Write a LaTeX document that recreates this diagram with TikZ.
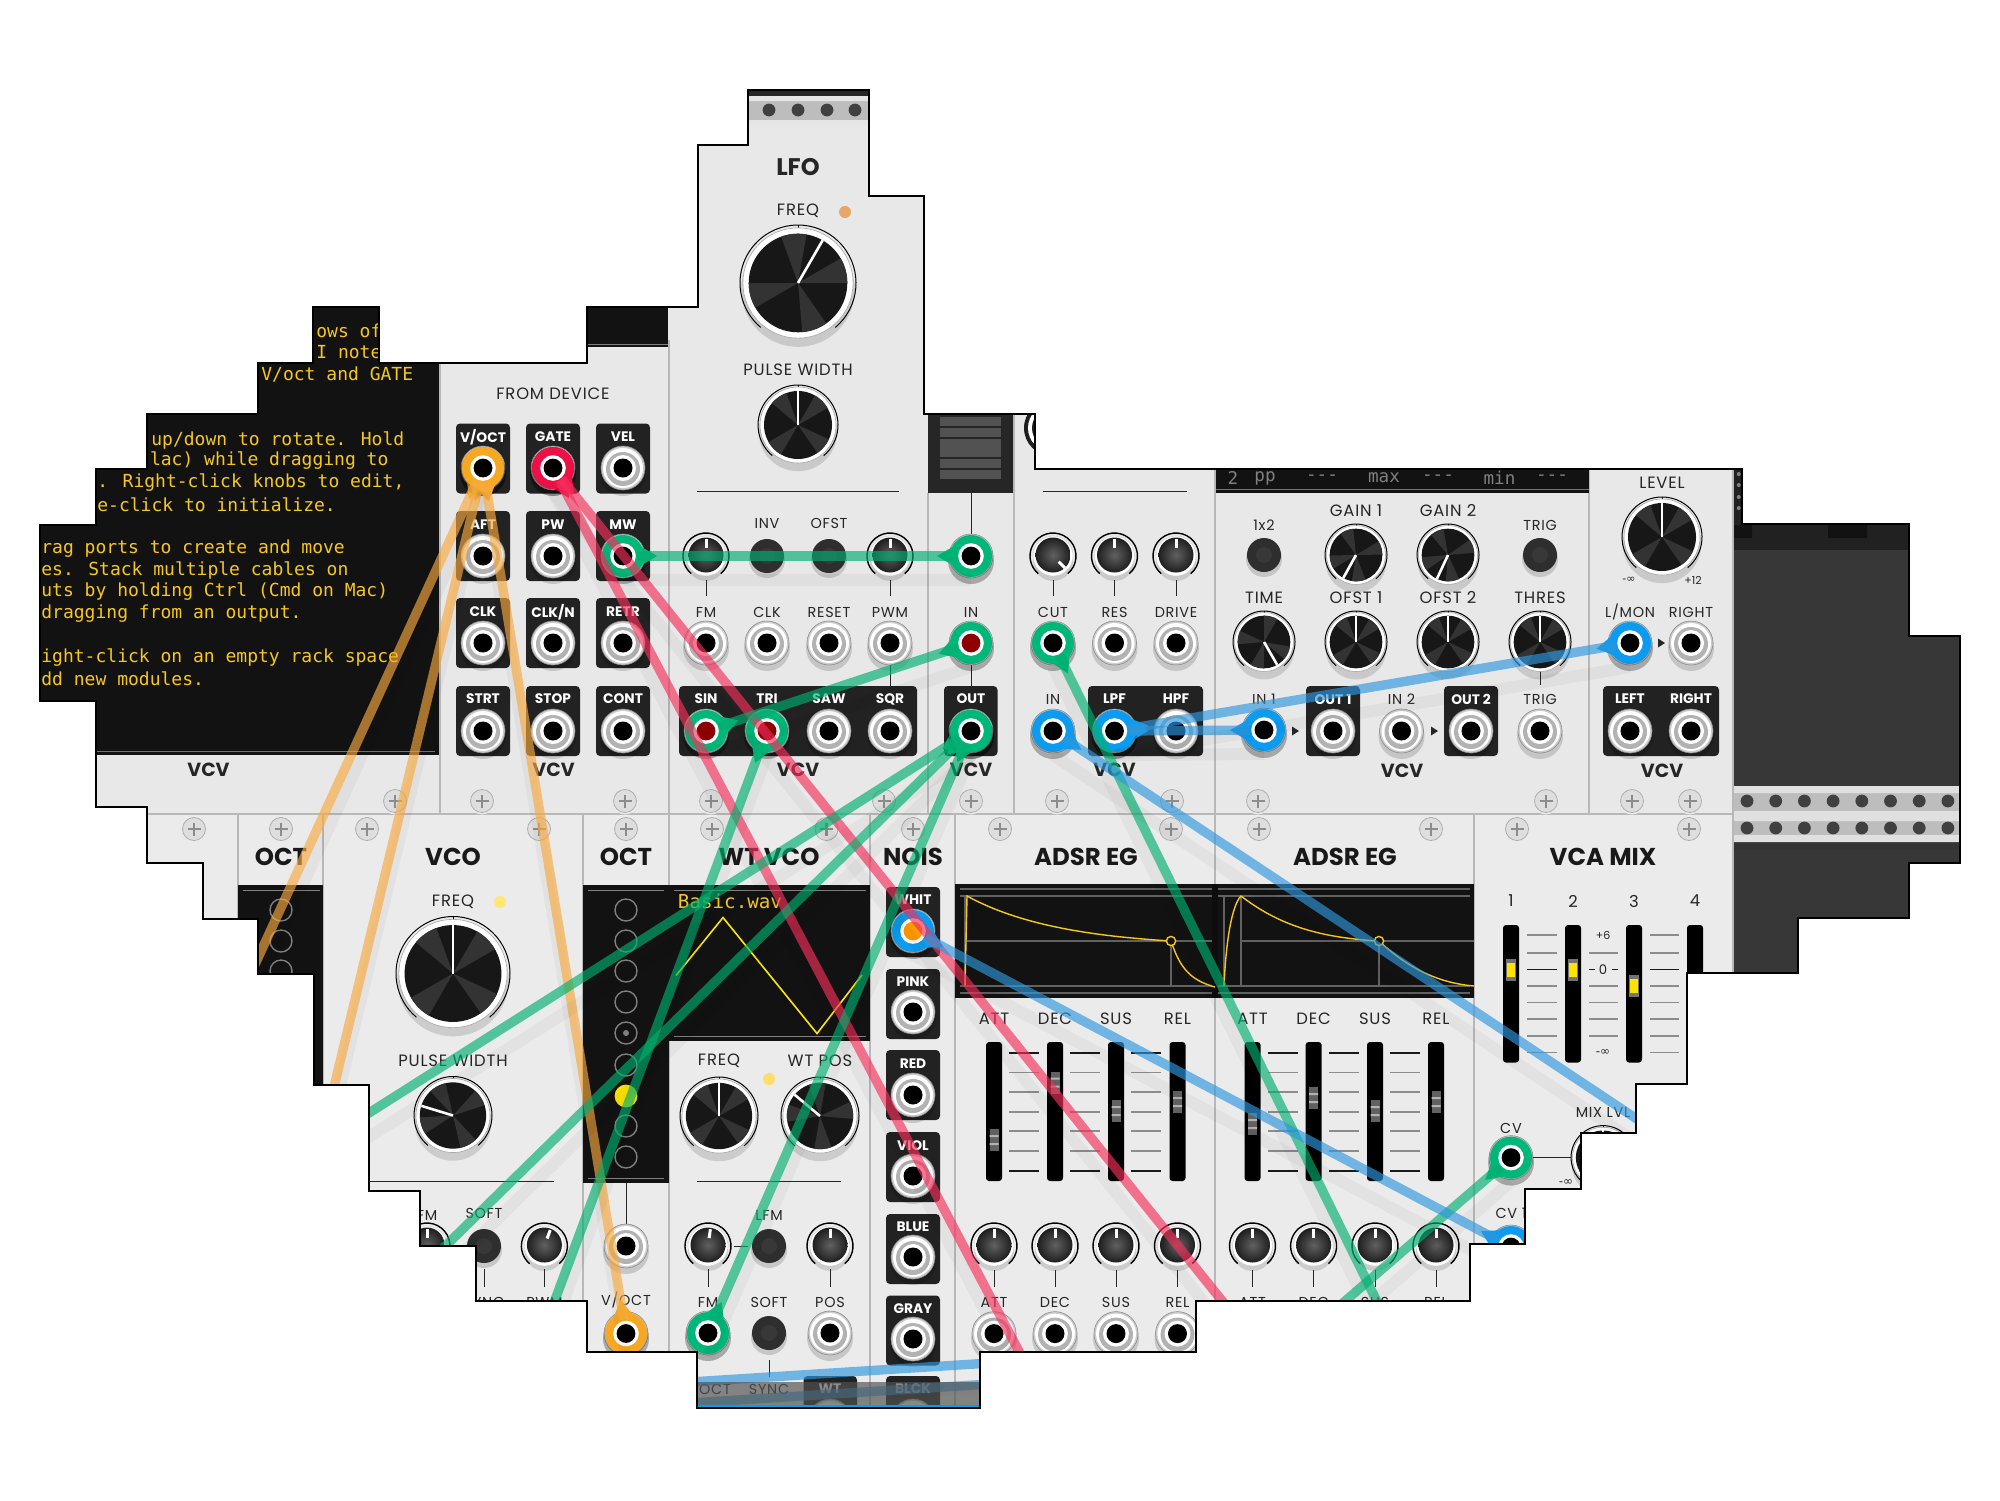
\documentclass[tikz,border=0pt]{standalone}
\usepackage{fontspec}
\setmainfont{Poppins}
\newfontfamily\lsf[LetterSpace=5]{Poppins}
\newfontfamily\monof{DejaVu Sans Mono}
\newfontfamily\symf{DejaVu Sans}
\usetikzlibrary{calc}
\definecolor{pan}{HTML}{E8E8E8}
\definecolor{panb}{HTML}{EBEBEB}
\definecolor{divc}{HTML}{B8B8B8}
\definecolor{dk}{HTML}{121212}
\definecolor{tilec}{HTML}{222222}
\definecolor{rack}{HTML}{373737}
\definecolor{ylw}{HTML}{F6C81E}
\definecolor{cgreen}{HTML}{00B77A}
\definecolor{cred}{HTML}{EB1045}
\definecolor{corange}{HTML}{F7A823}
\definecolor{cblue}{HTML}{0C9BEF}
\definecolor{lgreen}{HTML}{00AF70}
\definecolor{lred}{HTML}{F52F5A}
\definecolor{lorange}{HTML}{F7AA3F}
\definecolor{lblue}{HTML}{2E97DE}
\definecolor{txt}{HTML}{262626}
\newcounter{lb}
\tikzset{
 lbl/.style={font=\fontsize{7.2}{8}\selectfont\lsf,text=txt,inner sep=0pt},
 biglbl/.style={font=\fontsize{8.2}{9}\selectfont\lsf,text=txt,inner sep=0pt},
 tilelbl/.style={font=\fontsize{6.9}{8}\selectfont\bfseries,text=white,inner sep=0pt},
 ttl/.style={font=\fontsize{12.2}{13}\selectfont\bfseries,text=black!90,inner sep=0pt},
 logo/.style={font=\fontsize{9.5}{11}\selectfont\bfseries,text=black!85,inner sep=0pt},
 notetxt/.style={font=\fontsize{9}{11}\selectfont\monof,text=ylw,anchor=west,inner sep=0pt},
 disptxt/.style={font=\fontsize{8.8}{10}\selectfont\monof,text=black!50,inner sep=0pt},
 ln/.style={black!85,line width=.5pt},
 divl/.style={divc,line width=1.2pt},
 tick/.style={black!45,line width=.6pt},
 tickb/.style={black!90,line width=.7pt},
 grid/.style={black!62,line width=.6pt},
 env/.style={ylw,line width=.7pt},
 cable/.style={line width=4.7pt,opacity=.65},
 pa/.style={shorten <=7pt},
 pb/.style={shorten >=7pt},
}
\newcommand\lbl[4][lbl]{\stepcounter{lb}\node[#1] (t\thelb) at (#2,#3) {#4};}
\newcommand\vcv[2]{\lbl[logo]{#1}{#2}{VCV}}
\newcommand\tile[4]{\fill[tilec,rounded corners=2pt] (#1,#2) rectangle (#3,#4);}
\newcommand\screw[2]{\begin{scope}[shift={(#1,#2)},x=.5pt,y=.5pt]
 \fill[black!8] (0,-1) circle (12.5);
 \filldraw[fill=black!13,draw=black!32,line width=.4pt] (0,0) circle (11.5);
 \draw[black!45,line width=1.3pt] (-6.5,0)--(6.5,0) (0,-6.5)--(0,6.5);
\end{scope}}
\newcommand\port[4][black]{\coordinate (#2) at (#3,#4);
\begin{scope}[shift={(#3,#4)},x=.5pt,y=.5pt]
 \fill[black,opacity=.15] (0,-5) circle (23);
 \filldraw[fill=black!20,draw=black!45,line width=.3pt] (0,0) circle (22);
 \fill[white] (0,0) circle (20);
 \fill[black!30] (0,-1) circle (17);
 \fill[white] (0,0) circle (13);
 \fill[#1] (0,0) circle (9.5);
\end{scope}}
\newcommand\plug[4][black]{%
 \fill[black,opacity=.15] ([yshift=-2.5pt]#2) circle[radius=11.5pt];
 \fill[#4] (#2) circle[radius=10.5pt];
 \fill[#4] ($(#2)!10pt!90:(#3)$) -- ($(#2)!17pt!(#3)$) -- ($(#2)!10pt!-90:(#3)$) -- cycle;
 \fill[white] (#2) circle[radius=6.4pt];
 \fill[#1] (#2) circle[radius=4.7pt];}
\newcommand\cable[4][]{%
 \draw[black,opacity=.035,line width=6pt] ([yshift=-12pt]#2) -- ([yshift=-12pt]#3);
 \draw[cable,#4,#1] (#2) -- (#3);}
\newcommand\bknob[4]{\begin{scope}[shift={(#1,#2)},x=.5pt,y=.5pt]
 \fill[black,opacity=.13] (0,-7) circle ({.98*#3});
 \draw[black,line width=.5pt] (-50:#3) arc (-50:230:#3);
 \draw[black,line width=.5pt] (0,#3) -- (0,{.92*#3});
 \filldraw[fill=white,draw=black!35,line width=.3pt] (0,0) circle ({.95*#3});
 \fill[black!91] (0,0) circle ({.85*#3});
 \foreach \a in {20,120,215,300} {\fill[black!80] (0,0) -- (\a+90-#4:{.85*#3}) arc ({\a+90-#4}:{\a+120-#4}:{.85*#3}) -- cycle;}
 \draw[white,line width=1.3pt] (0,0) -- (90-#4:{.85*#3});
\end{scope}}
\newcommand\sknob[3]{\begin{scope}[shift={(#1,#2)},x=.5pt,y=.5pt]
 \fill[black,opacity=.13] (0,-5) circle (20);
 \draw[black,line width=.7pt] (-50:23) arc (-50:230:23);
 \filldraw[fill=white,draw=black!20,line width=.2pt] (0,0) circle (20);
 \shade[inner color=black!62,outer color=black!88] (0,1) circle (17.5);
 \draw[white,line width=1.5pt] (90-#3:8) -- (90-#3:17);
\end{scope}}
\newcommand\btn[2]{\begin{scope}[shift={(#1,#2)},x=.5pt,y=.5pt]
 \fill[black,opacity=.15] (0,-4) circle (18);
 \fill[black!82] (0,0) circle (17);
 \fill[black!78] (0,0) circle (8);
\end{scope}}
\newcommand\slider[4]{\fill[black,rounded corners=1.5pt] (#1-8,#2) rectangle (#1+8,#3);
 \fill[black!62] (#1-4.5,#4-11) rectangle (#1+4.5,#4+11);
 \fill[black!30] (#1-4.5,#4-5) rectangle (#1+4.5,#4-3) (#1-4.5,#4+3) rectangle (#1+4.5,#4+5);}
\newcommand\ticks[2]{\foreach \yy in {1053,1072.5,1092,1112,1131,1151,1171} {\draw[tick] (#1,\yy) -- (#2,\yy);}
 \draw[tickb] (#1,1053) -- (#2,1053) (#1,1171) -- (#2,1171);}
\newcommand\arrowtip[2]{\fill[black!85] (#1-3,#2-4.5) -- (#1+4,#2) -- (#1-3,#2+4.5) -- cycle;}
\newcommand\octring[2]{\draw[black!50,line width=.7pt] (#1,#2) circle[radius=5.5pt];}
\newcommand\railholes[1]{\foreach \i in {0,...,7} {\fill[black!75] (1747+\i*28.7,#1) circle[radius=3.2pt];}}
\def\outl{(748,90)--(869,90)--(869,196)--(924,196)--(924,414)--(1035,414)--(1035,469)--(1742,469)--(1742,524)--(1909,524)--(1909,636)--(1960,636)--(1960,863)--(1909,863)--(1909,918)--(1798,918)--(1798,973)--(1687,973)--(1687,1084)--(1636,1084)--(1636,1133)--(1581,1133)--(1581,1189)--(1525,1189)--(1525,1244)--(1470,1244)--(1470,1301)--(1196,1301)--(1196,1352)--(980,1352)--(980,1408)--(697,1408)--(697,1352)--(587,1352)--(587,1301)--(476,1301)--(476,1246)--(420,1246)--(420,1191)--(369,1191)--(369,1085)--(314,1085)--(314,974)--(258,974)--(258,919)--(203,919)--(203,863)--(147,863)--(147,807)--(96,807)--(96,701)--(40,701)--(40,525)--(96,525)--(96,469)--(147,469)--(147,414)--(258,414)--(258,363)--(313,363)--(313,307)--(379,307)--(379,363)--(587,363)--(587,307)--(698,307)--(698,145)--(748,145)--cycle}
\begin{document}
\begin{tikzpicture}[x=.5pt,y=-.5pt]
\useasboundingbox (0,0) rectangle (2000,1500);
\fill[white] (0,0) rectangle (2000,1500);
\begin{scope}
\clip \outl;
% panels
\fill[pan] (0,0) rectangle (1733,814);
\fill[panb] (0,814) rectangle (1733,1500);
% rack
\fill[rack] (1733,524) rectangle (1970,880);
\fill[black!87] (1733,524) rectangle (1970,550);
\fill[black!93] (1733,525) rectangle (1752,538) (1828,525) rectangle (1867,538);
\fill[black!87] (1733,469) rectangle (1742,524);
\foreach \yy in {474,485,497,508} {\fill[black!50] (1738.7,\yy) circle[radius=1pt];}
\fill[black!80] (1733,842) rectangle (1970,850);
\fill[rack] (1733,850) rectangle (1970,980);
% rails
\fill[black!26] (1733,786) rectangle (1970,842);
\fill[black!12] (1733,786) rectangle (1970,793) (1733,811) rectangle (1970,821) (1733,835) rectangle (1970,842);
\railholes{801}\railholes{828}
% LFO top rail
\fill[black!85] (748,88) rectangle (869,96);
\fill[black!26] (748,96) rectangle (869,125);
\fill[black!10] (748,96) rectangle (869,101) (748,120) rectangle (869,125);
\foreach \xx in {769,798,827,855} {\fill[black!75] (\xx,110) circle[radius=3.2pt];}
% notes dark
\fill[dk] (0,290) rectangle (440,755);
\draw[black!55,line width=.5pt] (96,751) -- (435,751);
\fill[dk] (587,290) rectangle (668,347);
\draw[black!50,line width=.5pt] (587,344) -- (668,344);
\node[notetxt] (n1) at (316,331) {ows of};
\node[notetxt] (n2) at (316,352.5) {I note};
\node[notetxt] (n3) at (261,374) {V/oct and GATE};
\node[notetxt] (n4) at (151,440) {up/down to rotate. Hold};
\node[notetxt] (n5) at (149.6,461) {lac) while dragging to};
\node[notetxt] (n6) at (97,483) {. Right-click knobs to edit,};
\node[notetxt] (n7) at (97,505) {e-click to initialize.};
\node[notetxt] (n8) at (41,548.6) {rag ports to create and move};
\node[notetxt] (n9) at (41,570) {es. Stack multiple cables on};
\node[notetxt] (n10) at (41,592) {uts by holding Ctrl (Cmd on Mac)};
\node[notetxt] (n11) at (41,614) {dragging from an output.};
\node[notetxt] (n12) at (41,657.5) {ight-click on an empty rack space};
\node[notetxt] (n13) at (41,679) {dd new modules.};
\vcv{208.5}{770}
% dividers
\draw[divl] (147,814) -- (1733,814);
\foreach \xx in {440,669,1014,1215,1589} {\draw[divl] (\xx,340) -- (\xx,814);}
\draw[divl] (928,493) -- (928,814);
\draw[divl] (1733,469) -- (1733,1100);
\foreach \xx in {238,323,583,669,870,955,1215,1474} {\draw[divl] (\xx,814) -- (\xx,1408);}
% MIDI
\lbl[biglbl]{553}{394}{FROM DEVICE}
\foreach \xx in {483,553,623} {\foreach \yy in {458.5,546,633,721} {\tile{\xx-27}{\yy-35}{\xx+27}{\yy+35}}}
\lbl[tilelbl]{483}{437}{V/OCT}\lbl[tilelbl]{553}{437}{GATE}\lbl[tilelbl]{623}{437}{VEL}
\lbl[tilelbl]{483}{525}{AFT}\lbl[tilelbl]{553}{525}{PW}\lbl[tilelbl]{623}{525}{MW}
\lbl[tilelbl]{483}{612}{CLK}\lbl[tilelbl]{553}{612}{CLK/N}\lbl[tilelbl]{623}{612}{RETR}
\lbl[tilelbl]{483}{699}{STRT}\lbl[tilelbl]{553}{699}{STOP}\lbl[tilelbl]{623}{699}{CONT}
\foreach \c/\xx in {1/483,2/553,3/623} {\foreach \r/\yy in {1/468,2/556,3/643,4/731} {\port{m\c\r}{\xx}{\yy}}}
\vcv{553.6}{770}
% LFO
\lbl[font=\fontsize{12}{13}\selectfont\bfseries,text=black!85,inner sep=0pt]{798}{167}{LFO}
\lbl[biglbl]{798}{211}{FREQ}
\fill[black!15!orange!60!white] (845,212) circle[radius=3pt];
\bknob{798}{283}{58}{30}
\lbl[biglbl]{798}{370}{PULSE WIDTH}
\bknob{798}{425}{40}{0}
\draw[ln] (697,491) -- (899,491);
\lbl{767}{523}{INV}\lbl{829}{523}{OFST}
\sknob{706}{556}{0}\btn{767}{556}\btn{829}{556}\sknob{890}{556}{0}
\draw[ln] (706,580) -- (706,596) (890,580) -- (890,596) (890,665) -- (890,686);
\lbl{706}{612}{FM}\lbl{767}{612}{CLK}\lbl{829}{612}{RESET}\lbl{890}{612}{PWM}
\port{lfm}{706}{643}\port{lclk}{767}{643}\port{lrst}{829}{643}\port{lpwm}{890}{643}
\tile{679}{686}{917}{756}
\lbl[tilelbl]{706}{699}{SIN}\lbl[tilelbl]{767}{699}{TRI}\lbl[tilelbl]{829}{699}{SAW}\lbl[tilelbl]{890}{699}{SQR}
\port{lsin}{706}{731}\port{ltri}{767}{731}\port{lsaw}{829}{731}\port{lsqr}{890}{731}
\vcv{798}{770}
% small VCA
\fill[black!85] (928,410) rectangle (1013,493);
\foreach \yy in {417,428,439,448,459,470} {\fill[black!68] (940,\yy) rectangle (1001,\yy+9);}
\draw[ln] (971,493) -- (971,535) (971,665) -- (971,686);
\port{vtop}{971}{556}
\lbl{971}{612}{IN}
\port{vin}{971}{643}
\tile{944}{686}{997.5}{756}
\lbl[tilelbl]{971}{699}{OUT}
\port{vout}{971}{731}
\vcv{971}{770}
% VCF
\fill[black!88] (1052,428) circle[radius=14pt];
\fill[white] (1052,428) circle[radius=12pt];
\fill[black!88] (1052,428) circle[radius=10pt];
\draw[ln] (1043,491) -- (1187,491);
\sknob{1053}{556}{135}\sknob{1114.5}{556}{0}\sknob{1176}{556}{0}
\draw[ln] (1053,580) -- (1053,596) (1114.5,580) -- (1114.5,596) (1176,580) -- (1176,596);
\lbl{1053}{612}{CUT}\lbl{1114.5}{612}{RES}\lbl{1176}{612}{DRIVE}
\port{fcut}{1053}{643}\port{fres}{1114.5}{643}\port{fdrv}{1176}{643}
\lbl{1053}{699}{IN}
\port{fin}{1053}{731}
\tile{1088}{686}{1203}{756}
\lbl[tilelbl]{1114.5}{699}{LPF}\lbl[tilelbl]{1176}{699}{HPF}
\port{flpf}{1114.5}{731}\port{fhpf}{1176}{731}
\vcv{1114.5}{770}
% Compressor / delay
\fill[dk] (1216,465) rectangle (1589,493);
\draw[black!55,line width=.5pt] (1216,489) -- (1589,489);
\lbl[disptxt]{1233}{478}{2}\lbl[disptxt]{1265}{478}{pp}\lbl[disptxt]{1322}{478}{---}\lbl[disptxt]{1384}{478}{max}\lbl[disptxt]{1438}{478}{---}\lbl[disptxt]{1499.5}{478}{min}\lbl[disptxt]{1552}{478}{---}
\lbl{1264}{525}{1x2}\lbl[biglbl]{1356}{511}{GAIN 1}\lbl[biglbl]{1448}{511}{GAIN 2}\lbl{1540}{525}{TRIG}
\btn{1264}{555}\bknob{1356}{555}{31}{209}\bknob{1448}{555}{31}{205}\btn{1540}{555}
\lbl[biglbl]{1264}{598}{TIME}\lbl[biglbl]{1356}{598}{OFST 1}\lbl[biglbl]{1448}{598}{OFST 2}\lbl[biglbl]{1540}{598}{THRES}
\bknob{1264}{642}{31}{150}\bknob{1356}{642}{31}{0}\bknob{1448}{642}{31}{0}\bknob{1540}{642}{31}{0}
\draw[ln] (1540,672) -- (1540,685);
\tile{1306}{686}{1360}{756}\tile{1444}{686}{1498}{756}
\lbl{1264}{699}{IN 1}\lbl[tilelbl]{1333}{699}{OUT 1}\lbl{1401.5}{699}{IN 2}\lbl[tilelbl]{1471}{699}{OUT 2}\lbl{1540}{699}{TRIG}
\port{din1}{1264}{730}\port{dout1}{1333}{731}\port{din2}{1401.5}{731}\port{dout2}{1471}{731}\port{dtrig}{1540}{731}
\arrowtip{1295}{731}\arrowtip{1434}{731}
\vcv{1402}{771}
% Audio
\lbl[biglbl]{1662}{483}{LEVEL}
\bknob{1662}{537}{40}{0}
\lbl[font=\fontsize{5.5}{6}\selectfont\symf,text=txt,inner sep=0pt]{1629}{580}{-∞}
\lbl[font=\fontsize{5.5}{6}\selectfont,text=txt,inner sep=0pt]{1693}{580}{+12}
\lbl{1630}{612}{L/MON}\lbl{1691}{612}{RIGHT}
\port{almon}{1630}{643}\port{aright}{1691}{643}
\arrowtip{1661}{643}
\tile{1603}{686}{1719}{756}
\lbl[tilelbl]{1630}{699}{LEFT}\lbl[tilelbl]{1691}{699}{RIGHT}
\port{aol}{1630}{731}\port{aor}{1691}{731}
\vcv{1662}{771}
% screws top row
\foreach \xx in {395,482,625,711,884,971,1057,1172,1258,1546,1632,1690} {\screw{\xx}{801}}
% bottom row titles and screws
\foreach \xx in {194,281,367,539,626,712,826.5,913,1000,1171,1259,1431,1517,1689} {\screw{\xx}{829}}
\lbl[ttl]{281}{857}{OCT}\lbl[ttl]{453}{857}{VCO}\lbl[ttl]{626}{857}{OCT}\lbl[ttl]{769}{857}{WT VCO}\lbl[ttl]{913}{857}{NOIS}\lbl[ttl]{1086}{857}{ADSR EG}\lbl[ttl]{1345}{857}{ADSR EG}\lbl[ttl]{1603}{857}{VCA MIX}
% left OCT
\fill[dk] (238,885) rectangle (323,1100);
\draw[black!50,line width=.5pt] (243,890) -- (320,890);
\octring{281}{910}\octring{281}{941}\octring{281}{971}
% VCO
\lbl[biglbl]{453}{902}{FREQ}
\fill[orange!35!yellow!55!white] (500,902) circle[radius=3pt];
\bknob{453}{973.5}{57}{0}
\lbl[biglbl]{453}{1061}{PULSE WIDTH}
\bknob{453}{1115.5}{39}{-73}
\draw[ln] (369,1181) -- (553.6,1181);
\lbl{427}{1215}{FM}\lbl{484}{1213.5}{SOFT}
\sknob{427}{1246}{0}\btn{484}{1246}\sknob{544.4}{1246}{20}
\draw[ln] (484,1269) -- (484,1287) (544.4,1269) -- (544.4,1287);
\lbl{484}{1302}{SYNC}\lbl{544.4}{1302}{PWM}
% right OCT
\fill[dk] (583,885) rectangle (669,1183);
\draw[black!50,line width=.5pt] (588,890) -- (664,890) (588,1178) -- (664,1178);
\foreach \yy in {910,941,971,1002,1033,1065,1126,1157} {\octring{626}{\yy}}
\fill[black!50] (626,1033) circle[radius=1.5pt];
\fill[yellow!85!orange] (626,1096) circle[radius=5.7pt];
\draw[ln] (626,1183) -- (626,1225);
\port{opt}{626}{1246}
\lbl{626}{1300}{V/OCT}
\port{ovoct}{626}{1333.5}
% WT VCO
\fill[dk] (669,885) rectangle (870,1041);
\draw[black!50,line width=.5pt] (674,890) -- (866,890) (674,1036) -- (866,1036);
\draw[yellow!90!orange,line width=.8pt] (676,975.5) -- (723,917.5) -- (817,1033.5) -- (862,975);
\lbl[font=\fontsize{9.6}{11}\selectfont\monof,text=ylw,inner sep=0pt]{730}{901}{Basic.wav}
\lbl[biglbl]{719}{1061}{FREQ}\lbl[biglbl]{820}{1061}{WT POS}
\fill[orange!45!yellow!60!white] (769,1079) circle[radius=3pt];
\bknob{719}{1116}{39}{0}\bknob{820}{1116}{39}{-50}
\draw[ln] (697,1181) -- (841,1181);
\lbl{769}{1215}{LFM}
\sknob{708}{1246}{8}\btn{769}{1246}\sknob{830}{1246}{0}
\draw[ln] (734,1246) -- (748,1246) (708,1269) -- (708,1287) (830,1269) -- (830,1287) (769,1360) -- (769,1377);
\lbl{708}{1302}{FM}\lbl{769}{1302}{SOFT}\lbl{830}{1302}{POS}
\port{wfm}{708}{1333}\btn{769}{1333}\port{wpos}{830}{1333}
% NOIS
\foreach \yy in {887,969,1050,1132,1214,1295.5,1376} {\tile{886}{\yy}{940}{\yy+70}}
\lbl[tilelbl]{913}{900}{WHIT}\lbl[tilelbl]{913}{982}{PINK}\lbl[tilelbl]{913}{1064}{RED}\lbl[tilelbl]{913}{1146}{VIOL}\lbl[tilelbl]{913}{1227}{BLUE}\lbl[tilelbl]{913}{1309}{GRAY}
\port{nwhit}{913}{931}\port{npink}{913}{1012}\port{nred}{913}{1095}\port{nviol}{913}{1176}\port{nblue}{913}{1257}\port{ngray}{913}{1339}
% ADSR display
\fill[dk] (955,884) rectangle (1474,997.5);
\draw[grid] (960,889) -- (1470,889) (960,896) -- (1470,896) (965,941) -- (1215,941) (1241,941) -- (1474,941) (960,986) -- (1470,986) (960,993) -- (1470,993) (965,896) -- (965,986) (1171,941) -- (1171,986) (1224,896) -- (1224,986) (1241,896) -- (1241,986) (1379,941) -- (1379,986);
\fill[black!95] (1212,884) rectangle (1218,997.5);
\draw[env] (965,986) -- (967,896) .. controls (1020,925) and (1090,936) .. (1171,941) .. controls (1180,968) and (1190,980) .. (1215,987);
\draw[env] (1224,986) .. controls (1226,940) and (1232,905) .. (1241,896) .. controls (1285,930) and (1330,938) .. (1379,941) .. controls (1410,970) and (1440,983) .. (1474,986);
\filldraw[draw=ylw,fill=dk,line width=.7pt] (1171,941) circle[radius=2.3pt];
\filldraw[draw=ylw,fill=dk,line width=.7pt] (1379,941) circle[radius=2.3pt];
% ADSR controls
\foreach \xx/\t/\sy in {994/ATT/1140,1055/DEC/1082.5,1116/SUS/1111,1177.5/REL/1102,1252.5/ATT/1124,1313.6/DEC/1098,1375/SUS/1111,1436/REL/1102} {
 \lbl[biglbl]{\xx}{1019}{\t}
 \slider{\xx}{1042}{1181}{\sy}
 \sknob{\xx}{1246}{0}
 \draw[ln] (\xx,1270) -- (\xx,1287);
 \lbl{\xx}{1302}{\t}
 \port{a\t\xx}{\xx}{1333.6}
}
\ticks{1009}{1039}\ticks{1070}{1100}\ticks{1131}{1161}\ticks{1268}{1298}\ticks{1329}{1359}\ticks{1390}{1420}
% VCA MIX
\foreach \xx/\t in {1511/1,1573/2,1634/3,1695/4} {\lbl[biglbl]{\xx}{901}{\t}\fill[black,rounded corners=1.5pt] (\xx-8,925) rectangle (\xx+8,1062.5);}
\foreach \xx/\yy in {1511/969.5,1573/969.5,1634/986} {
 \fill[black!55] (\xx-5,\yy-11) rectangle (\xx+5,\yy+11);
 \fill[yellow!85!orange] (\xx-4,\yy-7) rectangle (\xx+4,\yy+7);}
\foreach \yy in {935,953,986,1002.5,1019,1036,1052.5} {\draw[tick] (1527,\yy) -- (1557,\yy) (1650,\yy) -- (1679,\yy);}
\draw[tickb] (1527,969.5) -- (1557,969.5) (1650,969.5) -- (1679,969.5);
\foreach \yy in {953,986,1002.5,1019,1036} {\draw[tick] (1589,\yy) -- (1618,\yy);}
\draw[tickb] (1589,969.5) -- (1595,969.5) (1612,969.5) -- (1618,969.5);
\lbl[font=\fontsize{5.5}{6}\selectfont,text=txt,inner sep=0pt]{1603}{935}{+6}
\lbl[font=\fontsize{6.6}{7}\selectfont,text=txt,inner sep=0pt]{1603}{969.5}{0}
\lbl[font=\fontsize{6}{6}\selectfont\symf,text=txt,inner sep=0pt]{1603}{1052.5}{-∞}
\lbl{1603}{1112.5}{MIX LVL}
\bknob{1603}{1157.6}{32}{0}
\lbl{1511}{1128}{CV}
\port{mcv}{1511}{1157.6}
\draw[ln] (1533,1157.6) -- (1571,1157.6);
\lbl[font=\fontsize{6}{6}\selectfont\symf,text=txt,inner sep=0pt]{1566}{1182.5}{-∞}
\lbl{1511}{1213}{CV 1}
\port{mcv1}{1511}{1247}
% bottom strip of the next row
\tile{803.5}{1376}{857}{1440}
\port{wwt}{830}{1421}\port{nblck}{913}{1421}
\lbl{715}{1389}{OCT}\lbl{769}{1389}{SYNC}\lbl[tilelbl]{830}{1389}{WT}\lbl[tilelbl]{913}{1389}{BLCK}
\coordinate (bl1) at (690,1382);\coordinate (bl2) at (990,1363);
\coordinate (bl3) at (690,1403);\coordinate (bl4) at (990,1384);
\cable{bl1}{bl2}{lblue}
\cable{bl3}{bl4}{lblue}
\fill[black!68,opacity=.68] (697,1382) rectangle (980,1405);
\fill[cblue] (697,1405) rectangle (980,1408);
% free cable ends
\coordinate (oe1) at (240,997);
\coordinate (oe2) at (320,1145);
\coordinate (re1) at (1042,1395);
\coordinate (re2) at (1260,1348);
\coordinate (ge1) at (530,1367);
\coordinate (ge2) at (350,1125);
\coordinate (ge3) at (427,1264);
\coordinate (ge4) at (1392,1332);
\coordinate (ge5) at (1300,1340);
\coordinate (be1) at (1700,1161);
% plugs
\plug{m11}{oe1}{corange}\plug{m11}{oe2}{corange}\plug{m11}{ovoct}{corange}
\plug{ovoct}{m11}{corange}
\plug{m21}{re1}{cred}\plug{m21}{re2}{cred}
\plug{m32}{vtop}{cgreen}\plug{vtop}{m32}{cgreen}
\plug[red!55!black]{lsin}{vin}{cgreen}\plug[red!55!black]{vin}{lsin}{cgreen}
\plug[red!55!black]{ltri}{ge1}{cgreen}
\plug{vout}{ge2}{cgreen}\plug{vout}{ge3}{cgreen}\plug{vout}{wfm}{cgreen}\plug{wfm}{vout}{cgreen}
\plug{fcut}{ge4}{cgreen}\plug{mcv}{ge5}{cgreen}
\plug{fin}{be1}{cblue}
\plug[orange!80!yellow]{nwhit}{mcv1}{cblue}\plug{mcv1}{nwhit}{cblue}
\plug{flpf}{din1}{cblue}\plug{flpf}{almon}{cblue}\plug{din1}{flpf}{cblue}\plug{almon}{flpf}{cblue}
% cables
\cable[pa]{m11}{oe1}{lorange}
\cable[pa]{m11}{oe2}{lorange}
\cable[pa,pb]{m11}{ovoct}{lorange}
\cable[pa]{m21}{re1}{lred}
\cable[pa]{m21}{re2}{lred}
\cable[pa,pb]{m32}{vtop}{lgreen}
\cable[pa,pb]{lsin}{vin}{lgreen}
\cable[pa]{ltri}{ge1}{lgreen}
\cable[pa]{vout}{ge2}{lgreen}
\cable[pa]{vout}{ge3}{lgreen}
\cable[pa,pb]{vout}{wfm}{lgreen}
\cable[pa]{fcut}{ge4}{lgreen}
\cable[pa]{mcv}{ge5}{lgreen}
\cable[pa]{fin}{be1}{lblue}
\cable[pa,pb]{nwhit}{mcv1}{lblue}
\cable[pa,pb]{flpf}{din1}{lblue}
\cable[pa,pb]{flpf}{almon}{lblue}
\end{scope}
\draw[black,line width=1pt,line join=miter] \outl;
\end{tikzpicture}
\end{document}
